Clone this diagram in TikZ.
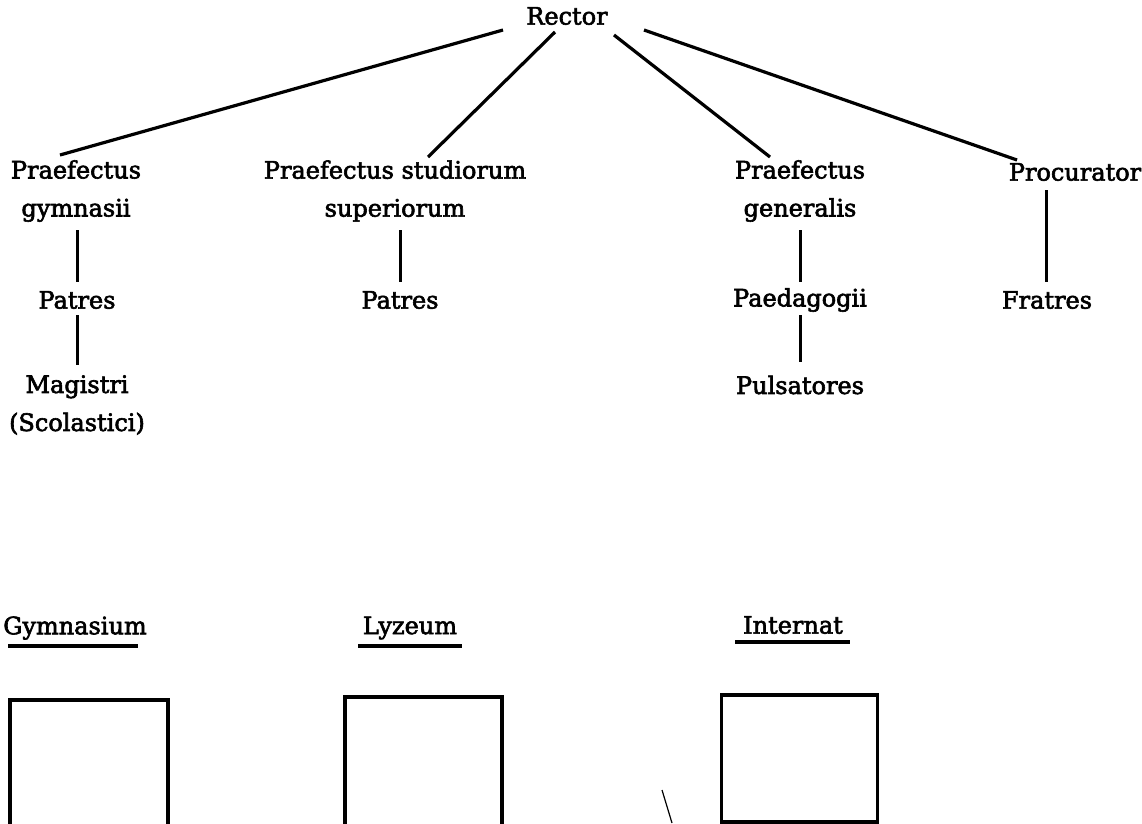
\documentclass[tikz,border=0pt]{standalone}
\usepackage{fontspec}
\setmainfont{DejaVu Serif}[FakeBold=2.5]
\begin{document}
\begin{tikzpicture}[x=1pt,y=-1pt,
  lbl/.style={font=\fontsize{24}{38}\selectfont, inner sep=0pt, align=center},
  conn/.style={line width=3.2pt},
  vconn/.style={line width=3pt},
  ul/.style={line width=3.2pt},
  unit/.style={draw, line width=3.6pt, inner sep=0pt}]
\useasboundingbox (0,0) rectangle (1142,823);

% nodes
\node[lbl] (rector) at (567,16) {Rector};
\node[lbl] (pg)   at (76,191)  {Praefectus\\gymnasii};
\node[lbl] (ps)   at (395,191) {Praefectus studiorum\\superiorum};
\node[lbl] (pgen) at (800,191) {Praefectus\\generalis};
\node[lbl] (proc) at (1075,172) {Procurator};

\node[lbl] (pat1) at (77,300)  {Patres};
\node[lbl] (pat2) at (400,300) {Patres};
\node[lbl] (paed) at (800,300) {Paedagogii};
\node[lbl] (frat) at (1047,300) {Fratres};

\node[lbl] (mag)  at (77,405)  {Magistri\\(Scolastici)};
\node[lbl] (puls) at (800,385) {Pulsatores};

\node[lbl] (gym) at (75,628)  {Gymnasium};
\node[lbl] (lyz) at (410,628) {Lyzeum};
\node[lbl] (int) at (793,625) {Internat};

% connectors from Rector
\draw[conn] ([shift={(-64,14)}]rector.center) -- ([shift={(-16,-36)}]pg.center);
\draw[conn] ([shift={(-12,16)}]rector.center) -- ([shift={(33,-34)}]ps.center);
\draw[conn] ([shift={(47,19)}]rector.center)  -- ([shift={(-30,-34)}]pgen.center);
\draw[conn] ([shift={(77,14)}]rector.center)  -- ([shift={(-58,-12)}]proc.center);

% vertical connectors
\draw[vconn] ([shift={(1,39)}]pg.center)   -- ([shift={(0,-18)}]pat1.center);
\draw[vconn] ([shift={(0,15)}]pat1.center) -- ([shift={(0,-40)}]mag.center);
\draw[vconn] ([shift={(5,39)}]ps.center)   -- ([shift={(0,-18)}]pat2.center);
\draw[vconn] ([shift={(0,39)}]pgen.center) -- ([shift={(0,-18)}]paed.center);
\draw[vconn] ([shift={(0,15)}]paed.center) -- ([shift={(0,-23)}]puls.center);
\draw[vconn] ([shift={(-29,18)}]proc.center) -- ([shift={(-1,-18)}]frat.center);

% underlines
\draw[ul] ([shift={(-67,18)}]gym.center) -- ([shift={(63,18)}]gym.center);
\draw[ul] ([shift={(-52,18)}]lyz.center) -- ([shift={(52,18)}]lyz.center);
\draw[ul] ([shift={(-58,17)}]int.center) -- ([shift={(57,17)}]int.center);

% unit boxes
\node[unit, minimum width=158pt, minimum height=140pt] (gymbox) at (89,770) {};
\node[unit, minimum width=157pt, minimum height=140pt] (lyzbox) at (423.5,767) {};
\node[unit, minimum width=156pt, minimum height=127pt] (intbox) at (799.5,758.5) {};

% stray mark
\draw[line width=1.2pt] (662,790) -- (672,823);
\end{tikzpicture}
\end{document}
